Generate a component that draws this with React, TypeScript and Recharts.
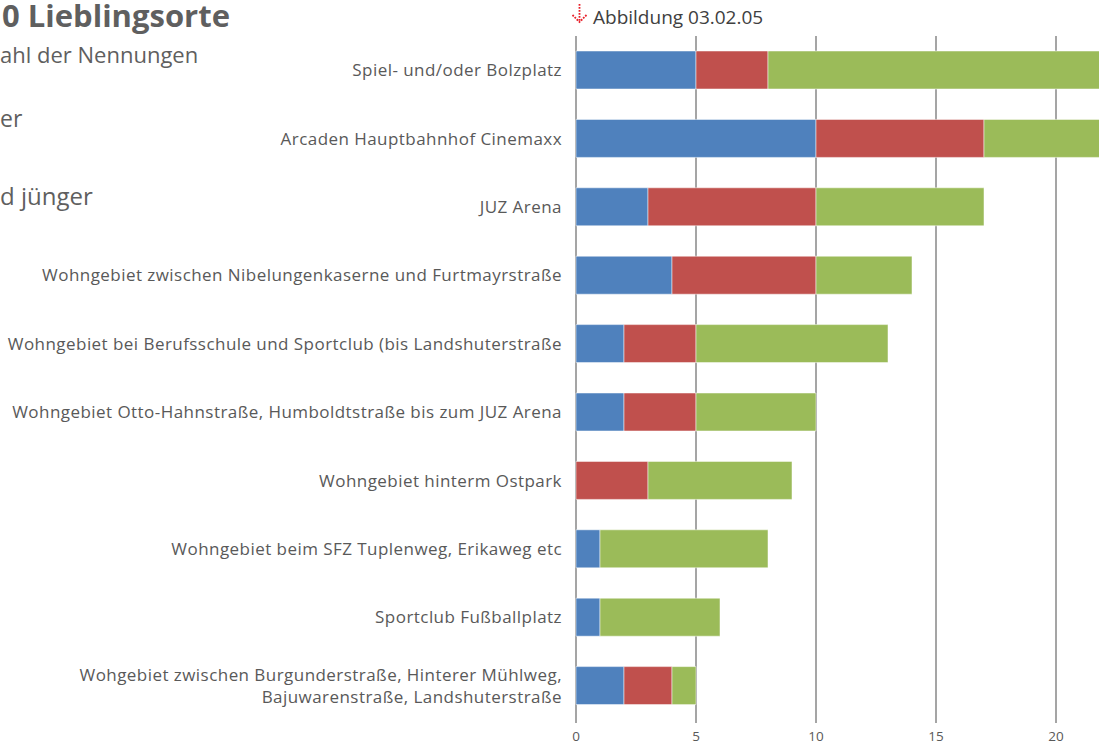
import React from "react";
import { BarChart, Bar, XAxis, YAxis, CartesianGrid } from "recharts";

const categories = [
  "Spiel- und/oder Bolzplatz",
  "Arcaden Hauptbahnhof Cinemaxx",
  "JUZ Arena ",
  "Wohngebiet zwischen Nibelungenkaserne und Furtmayrstraße",
  "Wohngebiet bei Berufsschule und Sportclub (bis Landshuterstraße",
  "Wohngebiet Otto-Hahnstraße, Humboldtstraße bis zum JUZ Arena",
  "Wohngebiet hinterm Ostpark",
  "Wohngebiet beim SFZ Tuplenweg, Erikaweg etc",
  "Sportclub Fußballplatz ",
  "Wohgebiet zwischen Burgunderstraße, Hinterer Mühlweg,\nBajuwarenstraße, Landshuterstraße",
];
const seriesBlue = [5, 10, 3, 4, 2, 2, 0, 1, 1, 2];
const seriesRed = [3, 7, 7, 6, 3, 3, 3, 0, 0, 2];
const seriesGreen = [16, 6, 7, 4, 8, 5, 6, 7, 5, 1];
const xTicks = [0, 5, 10, 15, 20];

const data = categories.map((c, i) => ({
  name: c,
  blue: seriesBlue[i],
  red: seriesRed[i],
  green: seriesGreen[i],
}));

const FONT = "'Open Sans', sans-serif";
const TEXT = "#595959";

const YTick = (props: any) => {
  const { x, y, payload } = props;
  const lines = String(payload.value).split("\n");
  const lh = 22;
  const start = -((lines.length - 1) * lh) / 2;
  return (
    <text
      x={x}
      y={y}
      textAnchor="end"
      fill={TEXT}
      fontSize={17}
      letterSpacing={0.45}
      fontFamily={FONT}
    >
      {lines.map((l, i) => (
        <tspan key={i} x={x} dy={i === 0 ? start + 6 : lh}>
          {l}
        </tspan>
      ))}
    </text>
  );
};

const Arrow = () => (
  <svg width={20} height={24} style={{ position: "absolute", left: 570, top: 3 }}>
    <g stroke="#e8202a" strokeWidth={1.8} strokeDasharray="1.8 1.2" fill="none">
      <line x1={9.5} y1={1} x2={9.5} y2={19} />
      <polyline points="2.5,12 9.5,19 16.5,12" />
    </g>
  </svg>
);

const side = { position: "absolute" as const, left: 0, color: "#5f5f5f", whiteSpace: "nowrap" as const };

export default function App() {
  return (
    <div
      style={{
        position: "fixed",
        left: 0,
        top: 0,
        width: 1099,
        height: 747,
        overflow: "hidden",
        background: "#fff",
        fontFamily: FONT,
      }}
    >
      <div style={{ ...side, left: 2, top: 0, fontSize: 31, lineHeight: 1, fontWeight: 700 }}>0 Lieblingsorte</div>
      <div style={{ ...side, top: 39, fontSize: 22 }}>ahl der Nennungen</div>
      <div style={{ ...side, top: 102, fontSize: 23 }}>er</div>
      <div style={{ ...side, top: 179, fontSize: 24 }}>d jünger</div>
      <Arrow />
      <div style={{ position: "absolute", left: 593, top: 4, fontSize: 19, color: "#404040", whiteSpace: "nowrap" }}>
        Abbildung 03.02.05
      </div>
      <div style={{ position: "absolute", left: 0, top: 0 }}>
        <BarChart
          width={1200}
          height={747}
          data={data}
          layout="vertical"
          margin={{ top: 36, right: 24, bottom: 6, left: 0 }}
          barSize={38}
        >
          <CartesianGrid horizontal={false} vertical={true} stroke="#878787" strokeWidth={1.5} />
          <XAxis
            type="number"
            domain={[0, 25]}
            ticks={xTicks}
            axisLine={false}
            tickLine={{ stroke: "#878787", strokeWidth: 1.5 }}
            tickSize={3}
            tick={{ fill: TEXT, fontSize: 13.5, fontFamily: FONT, dy: 6 }}
            height={21}
            interval={0}
          />
          <YAxis
            type="category"
            dataKey="name"
            width={576}
            axisLine={false}
            tickLine={false}
            tick={<YTick />}
            tickMargin={8}
            interval={0}
          />
          <Bar dataKey="blue" stackId="a" fill="#4F81BD" stroke="#ffffff" strokeWidth={0.5} isAnimationActive={false} />
          <Bar dataKey="red" stackId="a" fill="#C0504D" stroke="#ffffff" strokeWidth={0.5} isAnimationActive={false} />
          <Bar dataKey="green" stackId="a" fill="#9BBB59" stroke="#ffffff" strokeWidth={0.5} isAnimationActive={false} />
        </BarChart>
      </div>
    </div>
  );
}
